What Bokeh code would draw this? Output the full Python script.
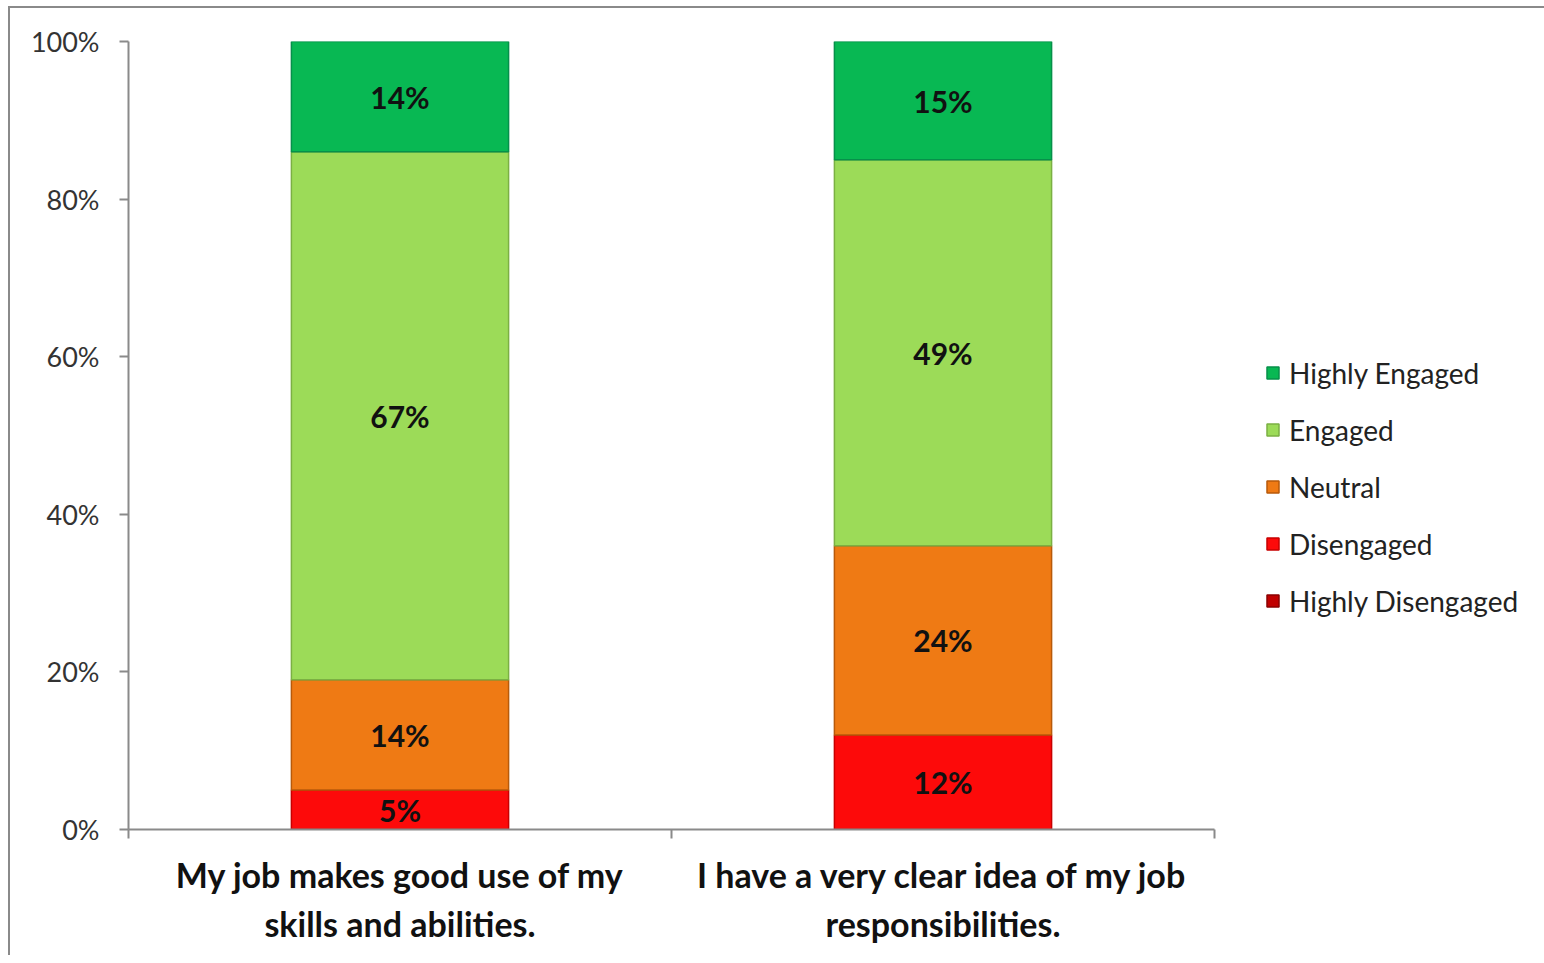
from bokeh.plotting import figure
from bokeh.models import (ColumnDataSource, FixedTicker, LabelSet, Legend, LegendItem,
                          PrintfTickFormatter, Range1d)
from bokeh.core.properties import value
from bokeh.embed import file_html
from bokeh.resources import INLINE

# ---- data ----
categories = ["My job makes good use of my\nskills and abilities.",
              "I have a very clear idea of my job\nresponsibilities."]
series = ["Highly Disengaged", "Disengaged", "Neutral", "Engaged", "Highly Engaged"]
highly_disengaged = [0, 0]
disengaged = [5, 12]
neutral = [14, 24]
engaged = [67, 49]
highly_engaged = [14, 15]
y_ticks = [0, 20, 40, 60, 80, 100]

colors = ["#C00000", "#FD0A0A", "#EF7A14", "#9CDB58", "#08B853"]
edge_colors = ["#8A0000", "#C80000", "#B85A0A", "#7BB043", "#06904A"]

values = [highly_disengaged, disengaged, neutral, engaged, highly_engaged]
xs = [i + 0.5 for i in range(len(categories))]

src = ColumnDataSource(dict(x=xs, **{s: v for s, v in zip(series, values)}))

FONT = "Lato"

p = figure(frame_width=1086, frame_height=788, output_backend="svg",
           toolbar_location=None, x_range=Range1d(0, len(categories)),
           y_range=Range1d(0, 100),
           min_border_left=118, min_border_right=322, min_border_top=33,
           min_border_bottom=126)
p.styles = {"border-top": "2px solid #8a8a8a", "border-left": "2px solid #8a8a8a",
            "margin-top": "6px", "margin-left": "8px"}
p.outline_line_color = None
p.xgrid.grid_line_color = None
p.ygrid.grid_line_color = None
p.background_fill_color = "white"
p.border_fill_color = "white"

renderers = p.vbar_stack(series, x="x", width=0.4, source=src, fill_color=colors,
                         line_color=edge_colors, line_width=1.5)

# data labels
lx, ly, lt = [], [], []
for j, x in enumerate(xs):
    base = 0
    for v in values:
        val = v[j]
        if val > 0:
            lx.append(x)
            ly.append(base + val / 2)
            lt.append(f"{val}%")
        base += val
labels = LabelSet(x="x", y="y", text="t", source=ColumnDataSource(dict(x=lx, y=ly, t=lt)),
                  text_align="center", text_baseline="middle", text_font=value(FONT),
                  text_font_style="bold", text_font_size="30px", text_color="#111111")
p.add_layout(labels)

# y axis
yax = p.yaxis[0]
yax.ticker = FixedTicker(ticks=y_ticks)
yax.formatter = PrintfTickFormatter(format="%d%%")
yax.axis_line_color = "#8a8a8a"
yax.axis_line_width = 2
yax.major_tick_line_color = "#8a8a8a"
yax.major_tick_line_width = 2
yax.major_tick_out = 9
yax.major_tick_in = 0
yax.minor_tick_line_color = None
yax.major_label_text_font = FONT
yax.major_label_text_font_size = "27px"
yax.major_label_text_color = "#333333"
yax.major_label_standoff = 20

# x axis
xax = p.xaxis[0]
xax.ticker = FixedTicker(ticks=xs, minor_ticks=list(range(len(categories) + 1)))
xax.major_label_overrides = {x: c for x, c in zip(xs, categories)}
xax.axis_line_color = "#8a8a8a"
xax.axis_line_width = 2
xax.major_tick_line_color = None
xax.minor_tick_line_color = "#8a8a8a"
xax.minor_tick_line_width = 2
xax.minor_tick_out = 9
xax.minor_tick_in = 0
xax.major_label_text_font = FONT
xax.major_label_text_font_style = "bold"
xax.major_label_text_font_size = "34px"
xax.major_label_text_color = "#111111"
xax.major_label_standoff = 15

# legend (top to bottom: Highly Engaged ... Highly Disengaged)
items = [LegendItem(label=s, renderers=[r]) for s, r in zip(series, renderers)][::-1]
legend = Legend(items=items, location=(51, 200), orientation="vertical",
                label_text_font=FONT, label_text_font_size="28px",
                label_text_color="#222222", glyph_width=15, glyph_height=15,
                label_height=57, spacing=0, padding=0, margin=0, label_standoff=9,
                background_fill_alpha=0, border_line_color=None)
p.add_layout(legend, "right")

open("out.html", "w").write(file_html(p, INLINE))
